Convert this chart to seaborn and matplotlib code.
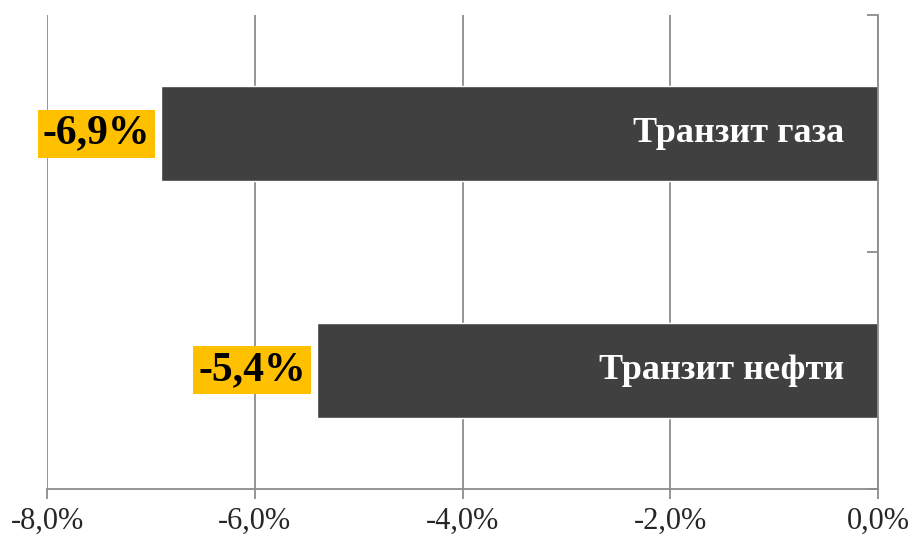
import matplotlib
matplotlib.use("Agg")
import matplotlib.pyplot as plt
import seaborn as sns
import pandas as pd

# data
categories = ["Транзит газа", "Транзит нефти"]
values = [-6.9, -5.4]
value_labels = ["-6,9%", "-5,4%"]
xticks = [-8, -6, -4, -2, 0]
xtick_labels = ["-8,0%", "-6,0%", "-4,0%", "-2,0%", "0,0%"]

df = pd.DataFrame({"cat": categories, "val": values})

sns.set_style("white")
plt.rcParams["font.family"] = ["Liberation Serif", "DejaVu Serif"]

fig = plt.figure(figsize=(9.11, 5.42), dpi=100)
ax = fig.add_axes([0.0516, 0.0978, 0.9122, 0.8745])

sns.barplot(data=df, x="val", y="cat", orient="h", color="#404040",
            width=0.4, saturation=1, ax=ax)

ax.set_xlim(-8, 0)
ax.set_ylim(1.5, -0.5)
ax.set_xticks(xticks)
ax.set_xticklabels(xtick_labels, fontsize=22)
ax.set_xlabel("")
ax.set_ylabel("")

# gridlines
ax.grid(axis="x", color="#8c8c8c", linewidth=1.3)
ax.set_axisbelow(True)

# axes / ticks
for s in ["top", "left"]:
    ax.spines[s].set_visible(False)
ax.spines["bottom"].set_color("#8c8c8c")
ax.spines["bottom"].set_linewidth(1.3)
ax.spines["right"].set_color("#8c8c8c")
ax.spines["right"].set_linewidth(1.3)
ax.yaxis.tick_right()
ax.set_yticks([-0.5, 0.5, 1.5])
ax.set_yticklabels(["", "", ""])
ax.tick_params(axis="y", direction="in", length=8, width=1.3, color="#8c8c8c", right=True)
ax.tick_params(axis="x", direction="out", length=7, width=1.3, color="#8c8c8c",
               bottom=True, pad=6)

for i, (v, lab, cat) in enumerate(zip(values, value_labels, categories)):
    ax.annotate(lab, xy=(v, i), xytext=(-8, 0), textcoords="offset points",
                ha="right", va="center", fontsize=30, fontweight="bold", color="black",
                bbox=dict(boxstyle="square,pad=0.12", facecolor="#FFC000", edgecolor="none"))
    ax.annotate(cat, xy=(0, i), xytext=(-24, 0), textcoords="offset points",
                ha="right", va="center", fontsize=26, fontweight="bold", color="white")

fig.savefig("out.png", dpi=100)
